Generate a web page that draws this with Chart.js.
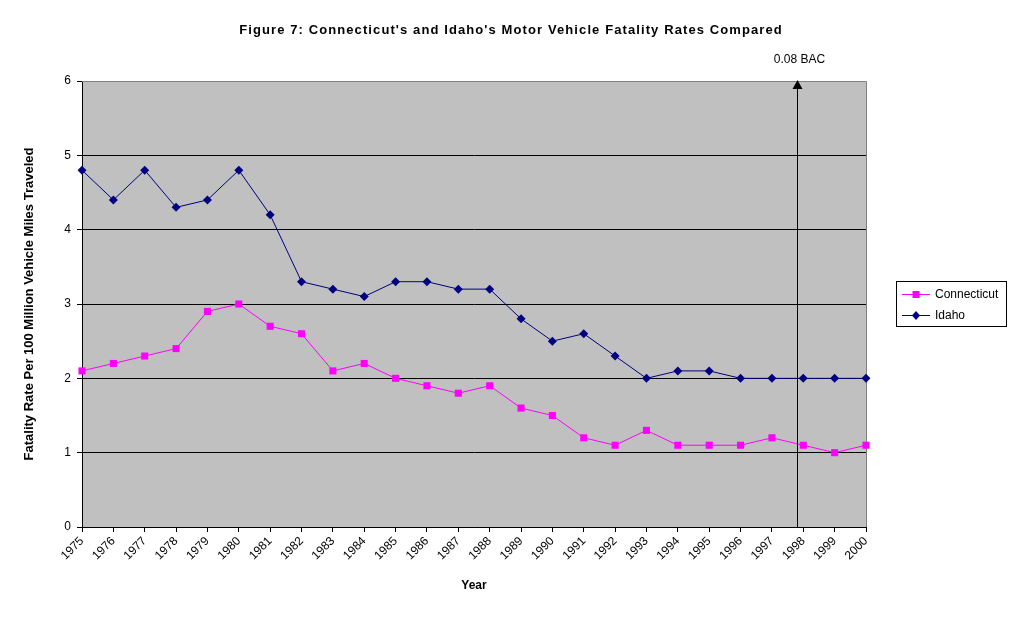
<!DOCTYPE html>
<html>
<head>
<meta charset="utf-8">
<script src="https://cdn.jsdelivr.net/npm/chart.js@4"></script>
<style>
  html, body { margin: 0; padding: 0; background: #fff; }
  #wrap { width: 1017px; height: 618px; }
</style>
</head>
<body>
<div id="wrap"><canvas id="myChart"></canvas></div>
<script>
// Datos del gráfico
var years = ['1975','1976','1977','1978','1979','1980','1981','1982','1983','1984','1985','1986','1987',
             '1988','1989','1990','1991','1992','1993','1994','1995','1996','1997','1998','1999','2000'];
var connecticut = [2.1, 2.2, 2.3, 2.4, 2.9, 3.0, 2.7, 2.6, 2.1, 2.2, 2.0, 1.9, 1.8,
                   1.9, 1.6, 1.5, 1.2, 1.1, 1.3, 1.1, 1.1, 1.1, 1.2, 1.1, 1.0, 1.1];
var idaho = [4.8, 4.4, 4.8, 4.3, 4.4, 4.8, 4.2, 3.3, 3.2, 3.1, 3.3, 3.3, 3.2,
             3.2, 2.8, 2.5, 2.6, 2.3, 2.0, 2.1, 2.1, 2.0, 2.0, 2.0, 2.0, 2.0];
var bacPosition = 22.8;   // entre 1997 y 1998, un poco antes de 1998
var bacLabel = '0.08 BAC';
var chartTitle = "Figure 7: Connecticut's and Idaho's Motor Vehicle Fatality Rates Compared";

var FONT = 'Arial, "Liberation Sans", sans-serif';

// Fondo gris, borde, título, línea BAC y leyenda
var decor = {
    id: 'decor',
    beforeDraw: function (chart) {
        var c = chart.ctx, a = chart.chartArea;
        c.save();
        c.fillStyle = '#C0C0C0';
        c.fillRect(a.left, a.top, a.right - a.left, a.bottom - a.top);
        c.restore();
    },
    beforeDatasetsDraw: function (chart) {
        var c = chart.ctx, a = chart.chartArea;
        c.save();
        c.strokeStyle = '#808080';
        c.lineWidth = 1;
        c.beginPath();
        c.moveTo(a.left, a.top + 0.5);
        c.lineTo(a.right + 0.5, a.top + 0.5);
        c.lineTo(a.right + 0.5, a.bottom);
        c.stroke();
        c.restore();
    },
    afterDraw: function (chart) {
        var c = chart.ctx, a = chart.chartArea;
        c.save();
        // título
        c.fillStyle = '#000';
        c.font = 'bold 13px ' + FONT;
        c.letterSpacing = '1.1px';
        c.textAlign = 'center';
        c.textBaseline = 'middle';
        c.fillText(chartTitle, 511, 30);
        c.letterSpacing = '0px';

        // línea vertical con flecha
        var x = Math.round(chart.scales.x.getPixelForValue(bacPosition)) + 0.5;
        c.strokeStyle = '#000';
        c.lineWidth = 1;
        c.beginPath();
        c.moveTo(x, a.bottom);
        c.lineTo(x, a.top + 6);
        c.stroke();
        c.beginPath();
        c.moveTo(x, a.top - 1);
        c.lineTo(x - 5, a.top + 8);
        c.lineTo(x + 5, a.top + 8);
        c.closePath();
        c.fill();
        c.font = '12px ' + FONT;
        c.fillText(bacLabel, x + 2, a.top - 21);

        // leyenda
        var lx = 896, ly = 281, lw = 110, lh = 45;
        c.fillStyle = '#fff';
        c.fillRect(lx, ly, lw, lh);
        c.strokeStyle = '#000';
        c.strokeRect(lx + 0.5, ly + 0.5, lw, lh);
        var items = [
            { label: 'Connecticut', color: '#FF00FF', style: 'square', y: ly + 13 },
            { label: 'Idaho', color: '#000080', style: 'diamond', y: ly + 34 }
        ];
        items.forEach(function (it) {
            c.strokeStyle = it.color;
            c.beginPath();
            c.moveTo(lx + 6, it.y + 0.5);
            c.lineTo(lx + 34, it.y + 0.5);
            c.stroke();
            c.fillStyle = it.color;
            var mx = lx + 20;
            if (it.style === 'square') {
                c.fillRect(mx - 3.5, it.y - 3, 7, 7);
            } else {
                c.beginPath();
                c.moveTo(mx, it.y - 4);
                c.lineTo(mx + 4, it.y + 0.5);
                c.lineTo(mx, it.y + 5);
                c.lineTo(mx - 4, it.y + 0.5);
                c.closePath();
                c.fill();
            }
            c.fillStyle = '#000';
            c.font = '12px ' + FONT;
            c.textAlign = 'left';
            c.textBaseline = 'middle';
            c.fillText(it.label, lx + 39, it.y + 1);
        });
        c.restore();
    }
};

var ctx = document.getElementById('myChart').getContext('2d');
var myChart = new Chart(ctx, {
    type: 'line',
    data: {
        labels: years,
        datasets: [{
            label: 'Connecticut',
            data: connecticut,
            borderColor: '#FF00FF',
            backgroundColor: '#FF00FF',
            borderWidth: 1,
            pointStyle: 'rect',
            pointRadius: 5,
            pointBorderWidth: 0,
            tension: 0
        }, {
            label: 'Idaho',
            data: idaho,
            borderColor: '#000080',
            backgroundColor: '#000080',
            borderWidth: 1,
            pointStyle: 'rectRot',
            pointRadius: 4.5,
            pointBorderWidth: 0,
            tension: 0
        }]
    },
    options: {
        responsive: true,
        maintainAspectRatio: false,
        animation: false,
        layout: { padding: { left: 0, right: 151, top: 81, bottom: 0 } },
        plugins: {
            legend: { display: false },
            tooltip: { enabled: false },
            title: { display: false }
        },
        scales: {
            x: {
                offset: false,
                grid: { drawOnChartArea: false, drawTicks: true, tickLength: 5, color: '#000' },
                border: { display: true, color: '#000' },
                ticks: {
                    color: '#000', font: { family: FONT, size: 12 },
                    maxRotation: 45, minRotation: 45, autoSkip: false, padding: 2
                },
                title: {
                    display: true, text: 'Year', color: '#000',
                    font: { family: FONT, size: 12, weight: 'bold' },
                    padding: { top: 0, bottom: 25 }
                },
                afterFit: function (s) { s.height = 91; }
            },
            y: {
                min: 0, max: 6,
                grid: { color: '#000', drawTicks: true, tickLength: 5 },
                border: { display: true, color: '#000' },
                ticks: { stepSize: 1, color: '#000', font: { family: FONT, size: 12 }, padding: 6 },
                title: {
                    display: true, text: 'Fatality Rate Per 100 Million Vehicle Miles Traveled',
                    color: '#000', font: { family: FONT, size: 13, weight: 'bold' },
                    padding: { top: 22, bottom: 0 }
                },
                afterFit: function (s) { s.width = 82; }
            }
        }
    },
    plugins: [decor]
});
</script>
</body>
</html>
